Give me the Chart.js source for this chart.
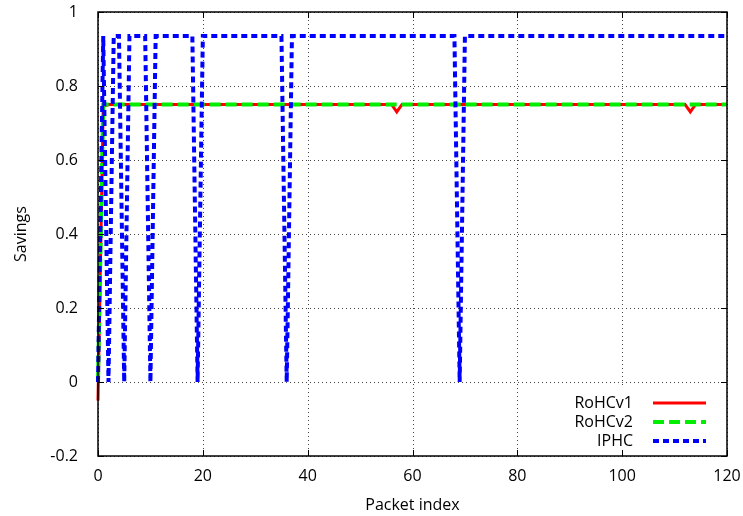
<!DOCTYPE html>
<html lang="en">
<head>
    <meta charset="UTF-8">
    <title>Savings per packet</title>
    <script src="https://cdn.jsdelivr.net/npm/chart.js"></script>
    <style>
        body { margin: 0; background: #fff; }
        canvas { display: block; }
    </style>
</head>
<body>
    <canvas id="savingsChart" width="743" height="516"></canvas>

    <script>
        // values (only the points where the curve changes)
        const rohcv1X = [0, 1, 2, 56, 57, 58, 112, 113, 114, 120];
        const rohcv1Y = [-0.05, 0.745, 0.75, 0.75, 0.73, 0.75, 0.75, 0.73, 0.75, 0.75];

        const rohcv2X = [0, 1, 120];
        const rohcv2Y = [0, 0.75, 0.75];

        const iphcX = [0, 1, 2, 3, 4, 5, 6, 9, 10, 11, 18, 19, 20, 35, 36, 37, 68, 69, 70, 120];
        const iphcY = [0, 0.935, 0, 0.935, 0.935, 0, 0.935, 0.935, 0, 0.935, 0.935, 0, 0.935, 0.935, 0, 0.935, 0.935, 0, 0.935, 0.935];

        const seriesNames = ['RoHCv1', 'RoHCv2', 'IPHC'];
        const xTicks = [0, 20, 40, 60, 80, 100, 120];
        const yTicks = [-0.2, 0, 0.2, 0.4, 0.6, 0.8, 1];

        const FONT = "'Open Sans', 'DejaVu Sans', sans-serif";
        const FSIZE = 16;

        function toPoints(xs, ys) {
            return xs.map((x, i) => ({ x: x, y: ys[i] }));
        }

        // dotted grid behind the lines
        const gridPlugin = {
            id: 'dotgrid',
            beforeDatasetsDraw(chart) {
                const c = chart.ctx;
                const a = chart.chartArea;
                const xs = chart.scales.x, ys = chart.scales.y;
                c.save();
                c.strokeStyle = '#444';
                c.lineWidth = 1;
                c.setLineDash([1, 3]);
                c.beginPath();
                xTicks.forEach(v => {
                    const px = Math.round(xs.getPixelForValue(v)) + 0.5;
                    c.moveTo(px, a.top); c.lineTo(px, a.bottom);
                });
                yTicks.forEach(v => {
                    const py = Math.round(ys.getPixelForValue(v)) + 0.5;
                    c.moveTo(a.left, py); c.lineTo(a.right, py);
                });
                c.stroke();
                c.restore();
            }
        };

        // frame, inward tick marks and gnuplot style legend
        const framePlugin = {
            id: 'frame',
            afterDatasetsDraw(chart) {
                const c = chart.ctx;
                const a = chart.chartArea;
                const xs = chart.scales.x, ys = chart.scales.y;

                // legend box (white, hides grid)
                c.save();
                c.fillStyle = '#fff';
                c.fillRect(548, 388, a.right - 549, a.bottom - 389);

                c.font = FSIZE + 'px ' + FONT;
                c.textAlign = 'right';
                c.textBaseline = 'middle';
                chart.data.datasets.forEach((ds, i) => {
                    const y = 403 + i * 19;
                    c.fillStyle = '#000';
                    c.fillText(ds.label, 633, y);
                    c.beginPath();
                    c.strokeStyle = ds.borderColor;
                    c.lineWidth = ds.borderWidth;
                    c.setLineDash(ds.borderDash || []);
                    c.moveTo(653, y);
                    c.lineTo(706, y);
                    c.stroke();
                });
                c.setLineDash([]);

                // ticks
                c.strokeStyle = '#000';
                c.lineWidth = 1;
                c.beginPath();
                xTicks.forEach(v => {
                    const px = Math.round(xs.getPixelForValue(v)) + 0.5;
                    c.moveTo(px, a.bottom); c.lineTo(px, a.bottom - 6);
                    c.moveTo(px, a.top); c.lineTo(px, a.top + 6);
                });
                yTicks.forEach(v => {
                    const py = Math.round(ys.getPixelForValue(v)) + 0.5;
                    c.moveTo(a.left, py); c.lineTo(a.left + 6, py);
                    c.moveTo(a.right, py); c.lineTo(a.right - 6, py);
                });
                c.stroke();

                c.lineWidth = 1.5;
                c.strokeRect(a.left, a.top, a.right - a.left, a.bottom - a.top);
                c.restore();
            }
        };

        const config = {
            type: 'line',
            data: {
                datasets: [{
                    label: seriesNames[0],
                    data: toPoints(rohcv1X, rohcv1Y),
                    borderColor: '#ff0000',
                    borderWidth: 3,
                    pointRadius: 0,
                    tension: 0,
                    order: 3
                }, {
                    label: seriesNames[1],
                    data: toPoints(rohcv2X, rohcv2Y),
                    borderColor: '#00ee00',
                    borderWidth: 4,
                    borderDash: [11, 5],
                    pointRadius: 0,
                    tension: 0,
                    order: 2
                }, {
                    label: seriesNames[2],
                    data: toPoints(iphcX, iphcY),
                    borderColor: '#0000ff',
                    borderWidth: 4,
                    borderDash: [6, 4],
                    pointRadius: 0,
                    tension: 0,
                    order: 1
                }]
            },
            options: {
                responsive: false,
                animation: false,
                devicePixelRatio: 1,
                clip: false,
                layout: { padding: { top: 12, right: 16, left: 0, bottom: 0 } },
                plugins: {
                    legend: { display: false },
                    tooltip: { enabled: false }
                },
                scales: {
                    x: {
                        type: 'linear',
                        min: 0,
                        max: 120,
                        afterFit(scale) {
                            scale.height = 60;
                            scale.paddingLeft = 0;
                            scale.paddingRight = 0;
                        },
                        afterBuildTicks(scale) { scale.ticks = xTicks.map(v => ({ value: v })); },
                        ticks: { color: '#000', font: { family: FONT, size: FSIZE }, padding: 3, maxRotation: 0 },
                        grid: { display: false },
                        border: { display: false },
                        title: {
                            display: true, text: 'Packet index', color: '#000',
                            font: { family: FONT, size: FSIZE }, padding: { top: 0, bottom: 1 }
                        }
                    },
                    y: {
                        min: -0.2,
                        max: 1,
                        afterFit(scale) {
                            scale.width = 98;
                            scale.paddingTop = 0;
                            scale.paddingBottom = 0;
                        },
                        afterBuildTicks(scale) { scale.ticks = yTicks.map(v => ({ value: v })); },
                        ticks: {
                            color: '#000', font: { family: FONT, size: FSIZE }, padding: 12,
                            callback: v => String(Math.round(v * 10) / 10)
                        },
                        grid: { display: false },
                        border: { display: false },
                        title: {
                            display: true, text: 'Savings', color: '#000',
                            font: { family: FONT, size: FSIZE }, padding: { top: 12, bottom: 0 }
                        }
                    }
                }
            },
            plugins: [gridPlugin, framePlugin]
        };

        new Chart(document.getElementById('savingsChart').getContext('2d'), config);
    </script>
</body>
</html>
